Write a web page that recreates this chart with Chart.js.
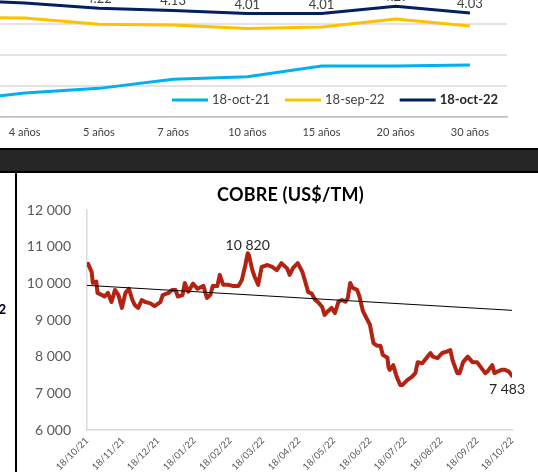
<!DOCTYPE html>
<html><head><meta charset="utf-8">
<script src="https://cdn.jsdelivr.net/npm/chart.js@4.4.1/dist/chart.umd.min.js"></script>
<style>
html,body{margin:0;padding:0;background:#fff;}
body{width:538px;height:472px;overflow:hidden;position:relative;font-family:Lato,sans-serif;}
#top{position:absolute;left:-100px;top:-20px;}
#band{position:absolute;left:0;top:148px;width:538px;height:21px;background:#262626;border-top:2px solid #000;border-bottom:2px solid #000;}
#vline{position:absolute;left:15px;top:173px;width:2px;height:299px;background:#000;}
#frag{position:absolute;left:-20px;width:26px;text-align:right;top:301px;font:bold 13px Lato;color:#000;}
#cu{position:absolute;left:18px;top:175px;}
</style></head><body>
<canvas id="top" width="627" height="167"></canvas>
<div id="band"></div>
<div id="vline"></div>
<div id="frag">2</div>
<canvas id="cu" width="545" height="297"></canvas>
<script>
// ---- Top chart (yield curves, cropped) ----
const curveLabels = ['3 años','4 años','5 años','7 años','10 años','15 años','20 años','30 años'];
const curveSeries = ['18-oct-21','18-sep-22','18-oct-22'];
const curveOct21 = [0.60,0.93,1.11,1.46,1.56,1.98,1.98,2.02];
const curveSep22 = [3.87,3.84,3.60,3.57,3.43,3.49,3.80,3.53];
const curveOct22 = [4.55,4.42,4.22,4.13,4.01,4.01,4.29,4.03];
const curveColors = ['#00B0F0','#FFC000','#002060'];

// ---- Copper chart ----
const copperTitle = 'COBRE (US$/TM)';
const copperDates = ['2021-10-18','2021-10-19','2021-10-22','2021-10-23','2021-10-26','2021-10-27','2021-10-31','2021-11-02','2021-11-05','2021-11-08','2021-11-11','2021-11-14','2021-11-17','2021-11-20','2021-11-23','2021-11-26','2021-11-28','2021-12-01','2021-12-04','2021-12-07','2021-12-11','2021-12-15','2021-12-20','2021-12-22','2021-12-27','2021-12-30','2022-01-02','2022-01-04','2022-01-08','2022-01-10','2022-01-13','2022-01-17','2022-01-21','2022-01-26','2022-01-29','2022-02-01','2022-02-03','2022-02-07','2022-02-09','2022-02-12','2022-02-16','2022-02-20','2022-02-25','2022-02-28','2022-03-03','2022-03-05','2022-03-06','2022-03-09','2022-03-11','2022-03-14','2022-03-17','2022-03-22','2022-03-26','2022-03-30','2022-04-03','2022-04-08','2022-04-10','2022-04-13','2022-04-17','2022-04-21','2022-04-23','2022-04-26','2022-04-29','2022-05-02','2022-05-04','2022-05-08','2022-05-10','2022-05-13','2022-05-16','2022-05-19','2022-05-22','2022-05-25','2022-05-28','2022-05-30','2022-06-01','2022-06-03','2022-06-07','2022-06-09','2022-06-12','2022-06-15','2022-06-18','2022-06-21','2022-06-24','2022-06-27','2022-06-29','2022-07-03','2022-07-04','2022-07-05','2022-07-08','2022-07-11','2022-07-14','2022-07-16','2022-07-20','2022-07-24','2022-07-27','2022-07-29','2022-08-02','2022-08-04','2022-08-09','2022-08-11','2022-08-15','2022-08-19','2022-08-23','2022-08-26','2022-08-28','2022-09-01','2022-09-03','2022-09-06','2022-09-10','2022-09-14','2022-09-18','2022-09-21','2022-09-25','2022-09-27','2022-10-01','2022-10-03','2022-10-06','2022-10-09','2022-10-12','2022-10-15','2022-10-18'];
const copperValues = [10500,10530,10310,10010,10050,9740,9680,9640,9740,9490,9820,9680,9330,9740,9850,9545,9410,9330,9545,9490,9460,9380,9490,9680,9740,9820,9820,9640,9680,10010,9770,9990,9850,9930,9600,9690,9930,9930,10230,9960,9960,9930,9930,10090,10500,10820,10780,10360,10180,9960,10450,10500,10450,10360,10550,10400,10230,10420,10550,10310,10090,9760,9720,9545,9500,9355,9140,9240,9330,9190,9500,9545,9500,9600,10010,9880,9820,9640,9240,9055,8870,8370,8300,8300,8050,7970,7700,7640,7770,7450,7230,7230,7360,7450,7550,7850,7820,7900,8100,8000,7960,8100,8140,8180,7900,7550,7550,7850,8000,7850,7850,7720,7550,7600,7770,7550,7600,7640,7640,7600,7483];
const copperTrendDates = ['2021-10-18','2022-10-18'];
const copperTrendValues = [9945,9264];
const copperTickDates = ['2021-10-18','2021-11-18','2021-12-18','2022-01-18','2022-02-18','2022-03-18','2022-04-18','2022-05-18','2022-06-18','2022-07-18','2022-08-18','2022-09-18','2022-10-18'];
const copperYTicks = [6000,7000,8000,9000,10000,11000,12000];

const baseDay = Date.UTC(2021,9,18);
function dayOf(s){const p=s.split('-').map(Number);return (Date.UTC(p[0],p[1]-1,p[2])-baseDay)/86400000;}
function dateLabel(s){const p=s.split('-');return p[2]+'/'+p[1]+'/'+p[0].slice(2);}
function fmt(v){return String(Math.round(v)).replace(/\B(?=(\d{3})+(?!\d))/g,' ');}

const FONT='Lato';

const curveLegend = {
  id:'curveLegend',
  afterDraw(chart){
    const ctx=chart.ctx; let x=272; const y=120;
    ctx.save();
    chart.data.datasets.forEach((ds,i)=>{
      ctx.strokeStyle=ds.borderColor; ctx.lineWidth=3; ctx.lineCap='butt';
      ctx.beginPath(); ctx.moveTo(x,y); ctx.lineTo(x+36,y); ctx.stroke();
      x+=40;
      const last=i===chart.data.datasets.length-1;
      ctx.font=(last?'bold ':'')+'13px '+FONT;
      ctx.fillStyle=last?'#262626':'#404040';
      ctx.textBaseline='middle'; ctx.textAlign='left';
      ctx.fillText(ds.label,x,y);
      x+=ctx.measureText(ds.label).width+15;
    });
    ctx.restore();
  }
};
const curveDataLabels = {
  id:'curveDataLabels',
  afterDatasetsDraw(chart){
    const idx=chart.data.datasets.length-1;
    const meta=chart.getDatasetMeta(idx); const ctx=chart.ctx;
    ctx.save(); ctx.font='13px '+FONT; ctx.fillStyle='#404040'; ctx.textAlign='center'; ctx.textBaseline='alphabetic';
    meta.data.forEach((p,i)=>{ ctx.fillText(chart.data.datasets[idx].data[i].toFixed(2),p.x,p.y-5); });
    ctx.restore();
  }
};

new Chart(document.getElementById('top'),{
  type:'line',
  data:{labels:curveLabels,datasets:[curveOct21,curveSep22,curveOct22].map((d,i)=>({
    label:curveSeries[i],data:d,borderColor:curveColors[i],backgroundColor:curveColors[i],borderWidth:3,pointRadius:0,tension:0
  }))},
  options:{
    responsive:false,animation:false,events:[],
    layout:{padding:{left:13.4,right:20,top:13.2,bottom:0}},
    plugins:{legend:{display:false},tooltip:{enabled:false}},
    scales:{
      x:{type:'category',offset:true,grid:{display:false,drawTicks:false},border:{color:'#bfbfbf',width:1.5},
         ticks:{padding:9,color:'#404040',font:{family:FONT,size:11}},afterFit:s=>{s.height=30;}},
      y:{min:0,max:4.8,ticks:{display:false,stepSize:1.2},grid:{color:'#e3e3e3',lineWidth:2,drawTicks:false},border:{display:false},afterFit:s=>{s.width=0;}}
    }
  },
  plugins:[curveLegend,curveDataLabels]
});

// copper
const copperPts=copperDates.map((d,i)=>({x:dayOf(d),y:copperValues[i]}));
const trendPts=copperTrendDates.map((d,i)=>({x:dayOf(d),y:copperTrendValues[i]}));
const tickDays=copperTickDates.map(dayOf);
const x0=tickDays[0], x1=tickDays[tickDays.length-1];

const copperLabels={
  id:'copperLabels',
  afterDatasetsDraw(chart){
    const meta=chart.getDatasetMeta(1); const ctx=chart.ctx;
    ctx.save(); ctx.font='14px '+FONT; ctx.fillStyle='#262626'; ctx.textAlign='center';
    const iMax=copperValues.indexOf(Math.max(...copperValues)); const pm=meta.data[iMax];
    ctx.textBaseline='alphabetic'; ctx.fillText(fmt(copperValues[iMax]),pm.x,pm.y-3);
    const iL=copperValues.length-1; const pl=meta.data[iL];
    ctx.textBaseline='top'; ctx.fillText(fmt(copperValues[iL]),pl.x-5,pl.y+7);
    ctx.restore();
  },
  afterDraw(chart){
    const ctx=chart.ctx; ctx.save();
    ctx.font='bold 18px '+FONT; ctx.fillStyle='#000'; ctx.textAlign='center'; ctx.textBaseline='middle';
    try{ctx.letterSpacing='0.2px';}catch(e){}
    ctx.fillText(copperTitle,272.5,20);
    ctx.restore();
  }
};

new Chart(document.getElementById('cu'),{
  type:'line',
  data:{datasets:[
    {label:'Tendencia',data:trendPts,borderColor:'#000',borderWidth:1,pointRadius:0,order:0},
    {label:'Cobre',data:copperPts,borderColor:'#B42312',borderWidth:4,pointRadius:0,tension:0,order:1,borderJoinStyle:'round',borderCapStyle:'round'}
  ]},
  options:{
    responsive:false,animation:false,events:[],
    layout:{padding:{left:0,right:51,top:35,bottom:0}},
    plugins:{legend:{display:false},tooltip:{enabled:false},title:{display:false}},
    scales:{
      x:{type:'linear',min:x0,max:x1,grid:{display:false,drawTicks:false},border:{color:'#d9d9d9',width:1.5},
         afterBuildTicks:s=>{s.ticks=tickDays.map(v=>({value:v}));},
         ticks:{autoSkip:false,maxRotation:45,minRotation:45,padding:5,color:'#595959',font:{family:FONT,size:9.5},
           callback:(v)=>{const i=tickDays.indexOf(v);return i>=0?dateLabel(copperTickDates[i]):'';}},
         afterFit:s=>{s.height=42;}},
      y:{min:copperYTicks[0],max:copperYTicks[copperYTicks.length-1],
         afterBuildTicks:s=>{s.ticks=copperYTicks.map(v=>({value:v}));},
         ticks:{padding:16,color:'#595959',font:{family:FONT,size:14},callback:v=>fmt(v)},
         grid:{display:false,drawTicks:false},border:{color:'#d9d9d9',width:1.5},afterFit:s=>{s.width=69;}}
    }
  },
  plugins:[copperLabels]
});
</script>
</body></html>
